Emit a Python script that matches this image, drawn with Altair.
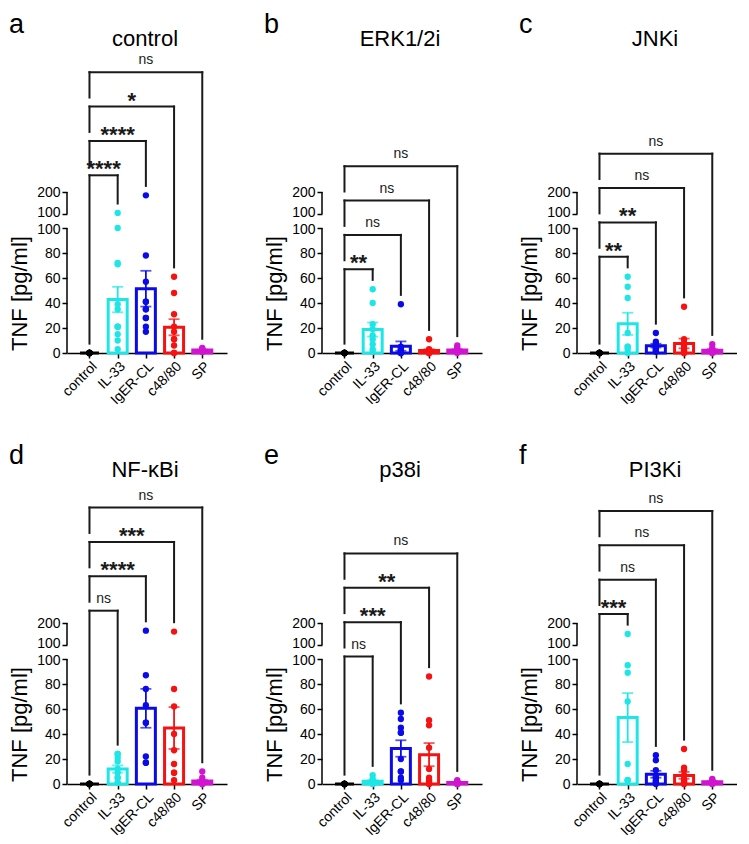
import json
import altair as alt
import numpy as np
import pandas as pd

FONT = "Liberation Sans"

# ---------------- data ----------------
groups = ["control", "IL-33", "IgER-CL", "c48/80", "SP"]
group_colors = ["#000000", "#1EE6E6", "#0B0BE8", "#F51212", "#D014D0"]

panel_titles = ["control", "ERK1/2i", "JNKi", "NF-κBi", "p38i", "PI3Ki"]
panel_letters = ["a", "b", "c", "d", "e", "f"]

a_control = [0, 0, 0, 0, 0, 0, 0, 0, 0, 0]
a_il33 = [105, 100, 72, 71, 39, 35, 21, 21, 21, 15, 10, 3]
a_iger = [185, 78, 57, 41, 41, 35, 35, 28, 28, 21, 17]
a_c48 = [61, 48, 31, 21, 17, 11, 11, 6, 0, 0]
a_sp = [4, 3, 3, 2, 2, 2, 1, 1, 3]

b_control = [0, 0, 0, 0, 0, 0, 0, 0, 0, 0]
b_il33 = [51, 40, 23, 19, 14, 11, 7, 3, 1]
b_iger = [39, 5, 4, 3, 2, 1, 1, 0, 0, 0]
b_c48 = [11, 3, 2, 2, 1, 1, 0, 0, 0, 0]
b_sp = [6, 4, 3, 3, 2, 2, 1, 1, 0]

c_control = [0, 0, 0, 0, 0, 0, 0, 0, 0, 0]
c_il33 = [61, 53, 44, 16, 5, 5, 3, 0]
c_iger = [16, 9, 7, 6, 5, 4, 3, 2, 1]
c_c48 = [37, 11, 8, 6, 4, 2, 1, 0, 0]
c_sp = [7, 4, 3, 2, 1, 1, 0, 0]

d_control = [0, 0, 0, 0, 0, 0, 0, 0, 0, 0]
d_il33 = [24, 24, 21, 18, 12, 9, 5, 5, 1, 1]
d_iger = [165, 87, 76, 63, 49, 49, 22, 17, 17]
d_c48 = [161, 76, 62, 40, 27, 16, 9, 9, 3]
d_sp = [10, 5, 3, 2, 2, 1, 1, 0, 0, 0]

e_control = [0, 0, 0, 0, 0, 0, 0, 0, 0, 0]
e_il33 = [7, 4, 3, 2, 2, 1, 1, 0, 0]
e_iger = [57, 52, 45, 41, 41, 20, 10, 10, 5, 3]
e_c48 = [86, 51, 47, 29, 12, 5, 3, 2, 0, 0]
e_sp = [3, 2, 2, 1, 1, 1, 0, 0, 0]

f_control = [0, 0, 0, 0, 0, 0, 0, 0, 0, 0]
f_il33 = [150, 95, 89, 66, 16, 3, 3, 3]
f_iger = [23, 19, 11, 6, 5, 3, 2, 1, 0]
f_c48 = [28, 13, 11, 7, 4, 3, 2, 1, 0, 0]
f_sp = [4, 3, 3, 2, 2, 1, 1, 0, 0]

sig_a = ["****", "****", "*", "ns"]
sig_b = ["**", "ns", "ns", "ns"]
sig_c = ["**", "**", "ns", "ns"]
sig_d = ["ns", "****", "***", "ns"]
sig_e = ["ns", "***", "**", "ns"]
sig_f = ["***", "ns", "ns", "ns"]

panel_values = [
    [a_control, a_il33, a_iger, a_c48, a_sp],
    [b_control, b_il33, b_iger, b_c48, b_sp],
    [c_control, c_il33, c_iger, c_c48, c_sp],
    [d_control, d_il33, d_iger, d_c48, d_sp],
    [e_control, e_il33, e_iger, e_c48, e_sp],
    [f_control, f_il33, f_iger, f_c48, f_sp],
]
panel_sigs = [sig_a, sig_b, sig_c, sig_d, sig_e, sig_f]

# ---------------- broken y axis geometry ----------------
W, H = 160, 300
Y_MAX = 240.0                 # display units, 1.25 px per unit
PXU = H / Y_MAX
BREAK_GAP = 14 / PXU          # 14 px gap between the two segments
UPPER_SCALE = (22 / PXU) / 100.0   # 100..200 squeezed into 22 px
UP100 = 100 + BREAK_GAP
UP200 = UP100 + 100 * UPPER_SCALE


def brk(v):
    return v if v <= 100 else UP100 + (v - 100) * UPPER_SCALE


def swarm(ys_px, step=3.3, maxoff=6.7, diam=6.4):
    cands = [0.0]
    k = 1
    while k * step <= maxoff + 1e-9:
        cands += [-k * step, k * step]
        k += 1
    offs = [0.0] * len(ys_px)
    placed = []
    order = sorted(range(len(ys_px)), key=lambda i: -ys_px[i])
    for i in order:
        best, bestd = 0.0, -1.0
        for c in cands:
            d = min((np.hypot(c - px, ys_px[i] - py) for px, py in placed), default=1e9)
            if d >= diam:
                best = c
                break
            if d > bestd:
                bestd, best = d, c
        offs[i] = best
        placed.append((best, ys_px[i]))
    return offs


color_scale = alt.Scale(domain=groups, range=group_colors)
xscale = alt.Scale(domain=[-0.62, 4.7], nice=False, zero=False)
yscale = alt.Scale(domain=[0, Y_MAX], nice=False, zero=False)

x_label_expr = json.dumps(groups) + "[datum.value]"
xaxis = alt.Axis(values=[0, 1, 2, 3, 4], labelExpr=x_label_expr, title=None,
                 labelAngle=315, labelAlign="right", labelBaseline="top",
                 labelFontSize=14, labelFont=FONT, labelColor="black",
                 labelPadding=1, labelFlush=False, labelOverlap=False,
                 tickSize=5, tickWidth=1.5, tickColor="black",
                 domainWidth=1.5, domainColor="black", grid=False)
yticks = [0, 20, 40, 60, 80, 100, round(UP100, 3), round(UP200, 3)]
y_label_expr = (f"datum.value > {UP200 - 5} ? '200' : "
                f"datum.value > {UP100 - 5} ? '100' : datum.label")
y_label_offset = {
    "condition": [
        {"test": f"datum.value > {UP100 - 5} && datum.value < {UP200 - 5}", "value": -1.5},
        {"test": "datum.value > 95 && datum.value < 105", "value": 1.5},
    ],
    "value": 0,
}
yaxis = alt.Axis(values=yticks, labelExpr=y_label_expr, title="TNF [pg/ml]",
                 titleFontSize=22, titleFontWeight="normal", titleFont=FONT,
                 titleColor="black", titleAngle=270, titleAlign="center",
                 titleBaseline="alphabetic", titleX=-41, titleY=H - 60,
                 labelFontSize=14, labelFont=FONT, labelColor="black",
                 labelOffset=y_label_offset,
                 labelPadding=2, labelOverlap=False, labelFlush=False,
                 tickSize=5, tickWidth=1.5, tickColor="black",
                 domain=False, grid=False)


def X(field):
    return alt.X(field, type="quantitative", scale=xscale, axis=xaxis)


def Y(field):
    return alt.Y(field, type="quantitative", scale=yscale, axis=yaxis)


def make_panel(p):
    vals = panel_values[p]
    sigs = panel_sigs[p]

    # points
    rows = []
    for gi, g in enumerate(groups):
        v = vals[gi]
        yt = [brk(x) for x in v]
        offs = swarm([t * PXU for t in yt])
        for x, t, o in zip(v, yt, offs):
            rows.append({"idx": gi, "group": g, "value": x, "yt": t, "jit": o})
    pts = pd.DataFrame(rows)

    # bars + SEM
    brows = []
    for gi, g in enumerate(groups):
        arr = np.array(vals[gi], dtype=float)
        m = arr.mean()
        sem = arr.std(ddof=1) / np.sqrt(len(arr))
        brows.append({"idx": gi, "group": g, "mean_t": brk(m), "zero": 0.0,
                      "lo_t": brk(max(m - sem, 0.0)), "hi_t": brk(m + sem)})
    bars = pd.DataFrame(brows)

    # significance brackets
    maxes = [brk(max(v)) for v in vals]
    L1 = max(maxes) + 16.0
    step = 27.5
    hrows, lrows, trows = [], [], []
    for k in range(1, 5):
        L = L1 + (k - 1) * step
        hrows.append({"x": 0, "x2": k, "y": L})
        lrows.append({"x": k, "y": L, "y2": maxes[k] + 7.5})
        low_left = maxes[0] + 7.5 if k == 1 else L - step + 7.2
        lrows.append({"x": 0, "y": L, "y2": low_left})
        trows.append({"xm": k / 2.0, "y": L, "label": sigs[k - 1],
                      "ns": sigs[k - 1] == "ns"})
    hdf = pd.DataFrame(hrows)
    ldf = pd.DataFrame(lrows)
    tdf = pd.DataFrame(trows)

    segs = pd.DataFrame({"y": [0.0, UP100], "y2": [100.0, UP200]})

    axis_line = alt.Chart(segs).mark_rule(color="black", strokeWidth=1.5).encode(
        x=alt.value(0), y=Y("y"), y2="y2")

    bar_layer = alt.Chart(bars).mark_bar(width=19, orient="vertical", fill="white",
                                         strokeWidth=3).encode(
        x=X("idx"), y=Y("mean_t"), y2="zero",
        stroke=alt.Stroke("group:N", scale=color_scale, legend=None))

    err_rule = alt.Chart(bars).mark_rule(strokeWidth=1.8).encode(
        x=X("idx"), y=Y("lo_t"), y2="hi_t",
        color=alt.Color("group:N", scale=color_scale, legend=None))
    err_hi = alt.Chart(bars).mark_tick(orient="horizontal", size=11, thickness=1.8).encode(
        x=X("idx"), y=Y("hi_t"),
        color=alt.Color("group:N", scale=color_scale, legend=None))
    err_lo = alt.Chart(bars).mark_tick(orient="horizontal", size=11, thickness=1.8).encode(
        x=X("idx"), y=Y("lo_t"),
        color=alt.Color("group:N", scale=color_scale, legend=None))

    dots = alt.Chart(pts).mark_circle(size=40, opacity=1).encode(
        x=X("idx"), y=Y("yt"),
        xOffset=alt.XOffset("jit:Q", scale=None),
        color=alt.Color("group:N", scale=color_scale, legend=None))

    hlines = alt.Chart(hdf).mark_rule(color="#1a1a1a", strokeWidth=2, strokeCap="square").encode(
        x=X("x"), x2="x2", y=Y("y"))
    legs = alt.Chart(ldf).mark_rule(color="#1a1a1a", strokeWidth=2, strokeCap="square").encode(
        x=X("x"), y=Y("y"), y2="y2")

    ns_text = alt.Chart(tdf).transform_filter("datum.ns").mark_text(
        font=FONT, fontSize=14, color="#1a1a1a", baseline="alphabetic", dy=-8).encode(
        x=X("xm"), y=Y("y"), text="label:N")
    star_text = alt.Chart(tdf).transform_filter("!datum.ns").mark_text(
        font=FONT, fontSize=22, fontWeight="bold", color="#1a1a1a",
        baseline="alphabetic", dy=1).encode(
        x=X("xm"), y=Y("y"), text="label:N")

    name = alt.Chart(pd.DataFrame({"t": [panel_titles[p]]})).mark_text(
        font=FONT, fontSize=22, align="center", baseline="alphabetic", color="black").encode(
        x=alt.value(W / 2 - 2), y=alt.value(-7), text="t:N")

    letter = alt.Chart(pd.DataFrame({"t": [panel_letters[p]]})).mark_text(
        font=FONT, fontSize=27, align="left", baseline="alphabetic", color="black").encode(
        x=alt.value(-58), y=alt.value(-20), text="t:N")

    return alt.layer(axis_line, bar_layer, err_rule, err_hi, err_lo, dots,
                     hlines, legs, ns_text, star_text, name, letter).properties(
        width=W, height=H)


row1 = alt.hconcat(make_panel(0), make_panel(1), make_panel(2), spacing=36)
row2 = alt.hconcat(make_panel(3), make_panel(4), make_panel(5), spacing=36)
chart = alt.vconcat(row1, row2, spacing=35,
                    padding={"top": 3, "left": 0, "right": 0, "bottom": 0}).configure(
    font=FONT, background="white").configure_view(strokeWidth=0)

chart.save("out.html", embed_options={"renderer": "svg", "actions": False})
